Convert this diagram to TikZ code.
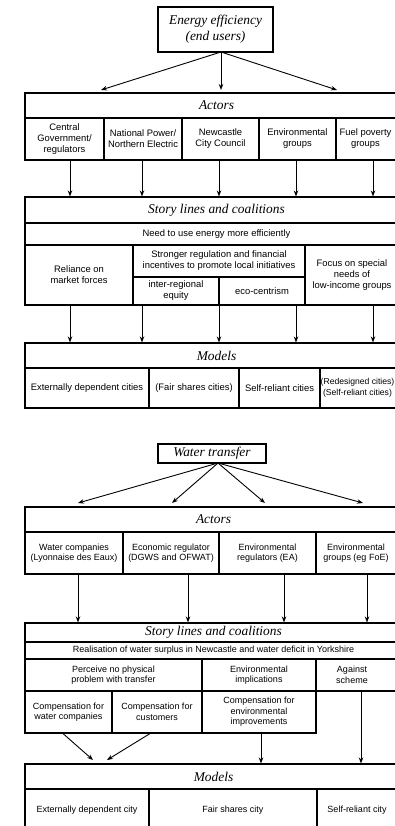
\documentclass[tikz,border=0pt]{standalone}
\usepackage{fontspec}
\setmainfont{Liberation Sans}
\newfontfamily\headfam{Liberation Serif}
\usetikzlibrary{arrows.meta}
\newcommand\bodyA{\fontsize{9.4}{11}\selectfont}
\newcommand\bodyB{\fontsize{9}{10.5}\selectfont}
\newcommand\headF{\headfam\itshape\fontsize{13.4}{16}\selectfont}
\newcommand\cellbox[7][]{%
  \pgfmathsetmacro\cbW{#5-#3}%
  \pgfmathsetmacro\cbH{#6-#4}%
  \pgfmathsetmacro\cbX{(#3+#5)/2}%
  \pgfmathsetmacro\cbY{(#4+#6)/2}%
  \node[cell,#1,minimum width=\cbW pt,minimum height=\cbH pt] (#2) at (\cbX,\cbY) {#7};}
\tikzset{
  cell/.style={draw, line width=1.1pt, inner sep=0pt, align=center, font=\bodyA},
  hd/.style={font=\headF},
  sb/.style={font=\bodyB},
  lbl/.style={align=center, inner sep=0pt},
  arr/.style={-{Stealth[length=6pt,width=4.5pt]}, line width=0.9pt}
}
\begin{document}
\begin{tikzpicture}[x=1pt,y=-1pt]
\useasboundingbox (0,0) rectangle (395,826);
\fill[white] (0,0) rectangle (395,826);
\clip (0,0) rectangle (395,826);
% ---------- Energy efficiency ----------
\cellbox[hd]{ee}{158}{7}{273}{52}{Energy efficiency\\(end users)}
\coordinate (eeA) at (221,52);
\coordinate (ea1) at (101,90);
\coordinate (ea2) at (221,90);
\coordinate (ea3) at (337,90);
\foreach \e in {ea1,ea2,ea3} \draw[arr] (eeA) -- (\e);
\cellbox[hd]{ah}{25}{93}{408}{118}{Actors}
\cellbox{c1}{25}{118}{104}{160}{Central\\Government/\\regulators}
\cellbox{c2}{104}{118}{182}{160}{National Power/\\Northern Electric}
\cellbox{c3}{182}{118}{259}{160}{Newcastle\\City Council}
\cellbox{c4}{259}{118}{336}{160}{Environmental\\groups}
\cellbox{c5}{336}{118}{408}{160}{}
\node[lbl, font=\bodyA] (c5t) at (365.5,139) {Fuel poverty\\groups};
\cellbox[hd]{sh}{25}{197}{408}{223}{Story lines and coalitions}
\cellbox{sn}{25}{223}{408}{245}{Need to use energy more efficiently}
\cellbox{s1}{25}{245}{133}{305}{Reliance on\\market forces}
\cellbox{s2}{133}{245}{305}{277}{Stronger regulation and financial\\incentives to promote local initiatives}
\cellbox{s3}{133}{277}{219}{305}{inter-regional\\equity}
\cellbox{s4}{219}{277}{305}{305}{eco-centrism}
\cellbox{s5}{305}{245}{410}{305}{}
\node[lbl, font=\bodyA] (s5t) at (352,275) {Focus on special\\needs of\\low-income groups};
\foreach \x/\n in {70/c1,142/c2,219/c3,296/c4,373/c5}
  \draw[arr] (\n.south -| \x,0) -- (sh.north -| \x,0);
\cellbox[hd]{mh}{25}{343}{408}{368}{Models}
\cellbox{m1}{25}{368}{149}{408}{Externally dependent cities}
\cellbox{m2}{149}{368}{239}{408}{(Fair shares cities)}
\cellbox{m3}{239}{368}{320}{408}{Self-reliant cities}
\cellbox{m4}{320}{368}{410}{408}{}
\node[lbl, font=\fontsize{8.6}{10.5}\selectfont] (m4t) at (357.5,388) {(Redesigned cities)\\(Self-reliant cities)};
\foreach \x/\n in {70/s1,142/s3,219/s4,296/s4,373/s5}
  \draw[arr] (\n.south -| \x,0) -- (mh.north -| \x,0);
% ---------- Water transfer ----------
\cellbox[hd]{wt}{158}{444}{266}{463}{Water transfer}
\coordinate (wA) at (218,463);
\coordinate (wa1) at (78,503);
\coordinate (wa2) at (172,503);
\coordinate (wa3) at (265,503);
\coordinate (wa4) at (363,503);
\foreach \e in {wa1,wa2,wa3,wa4} \draw[arr] (wA) -- (\e);
\cellbox[hd]{ah2}{25}{507}{402}{532}{Actors}
\cellbox[sb]{d1}{25}{532}{123}{574}{Water companies\\(Lyonnaise des Eaux)}
\cellbox[sb]{d2}{123}{532}{219}{574}{Economic regulator\\(DGWS and OFWAT)}
\cellbox[sb]{d3}{219}{532}{316}{574}{Environmental\\regulators (EA)}
\cellbox[sb]{d4}{316}{532}{400}{574}{}
\node[lbl, font=\bodyB] (d4t) at (356,553) {Environmental\\groups (eg FoE)};
\cellbox[hd]{sh2}{25}{623}{402}{642}{Story lines and coalitions}
\foreach \x/\n in {78/d1,188/d2,284/d3,367/d4}
  \draw[arr] (\n.south -| \x,0) -- (sh2.north -| \x,0);
\cellbox[sb]{sr}{25}{642}{402}{659}{Realisation of water surplus in Newcastle and water deficit in Yorkshire}
\cellbox[sb]{p1}{25}{659}{202}{691}{Perceive no physical\\problem with transfer}
\cellbox[sb]{p2}{202}{659}{316}{691}{Environmental\\implications}
\cellbox[sb]{p3}{316}{659}{402}{691}{}
\node[lbl, font=\bodyB] (p3t) at (352,675) {Against\\scheme};
\cellbox[sb]{q1}{25}{691}{112}{733}{Compensation for\\water companies}
\cellbox[sb]{q2}{112}{691}{202}{733}{Compensation for\\customers}
\cellbox[sb]{q3}{202}{691}{316}{733}{Compensation for\\environmental\\improvements}
\cellbox[hd]{mh2}{25}{764}{402}{789}{Models}
\coordinate (qa1) at (93,760);
\coordinate (qa2) at (107,760);
\draw[arr] (q1.south -| 63,0) -- (qa1);
\draw[arr] (q2.south -| 150,0) -- (qa2);
\draw[arr] (q3.south -| 261,0) -- (mh2.north -| 261,0);
\draw[arr] (p3.south -| 361,0) -- (mh2.north -| 361,0);
\cellbox[sb]{n1}{25}{789}{149}{832}{Externally dependent city}
\cellbox[sb]{n2}{149}{789}{317}{832}{Fair shares city}
\cellbox[sb]{n3}{317}{789}{410}{832}{}
\node[lbl, font=\bodyB] (n3t) at (357,810) {Self-reliant city};
\end{tikzpicture}
\end{document}
